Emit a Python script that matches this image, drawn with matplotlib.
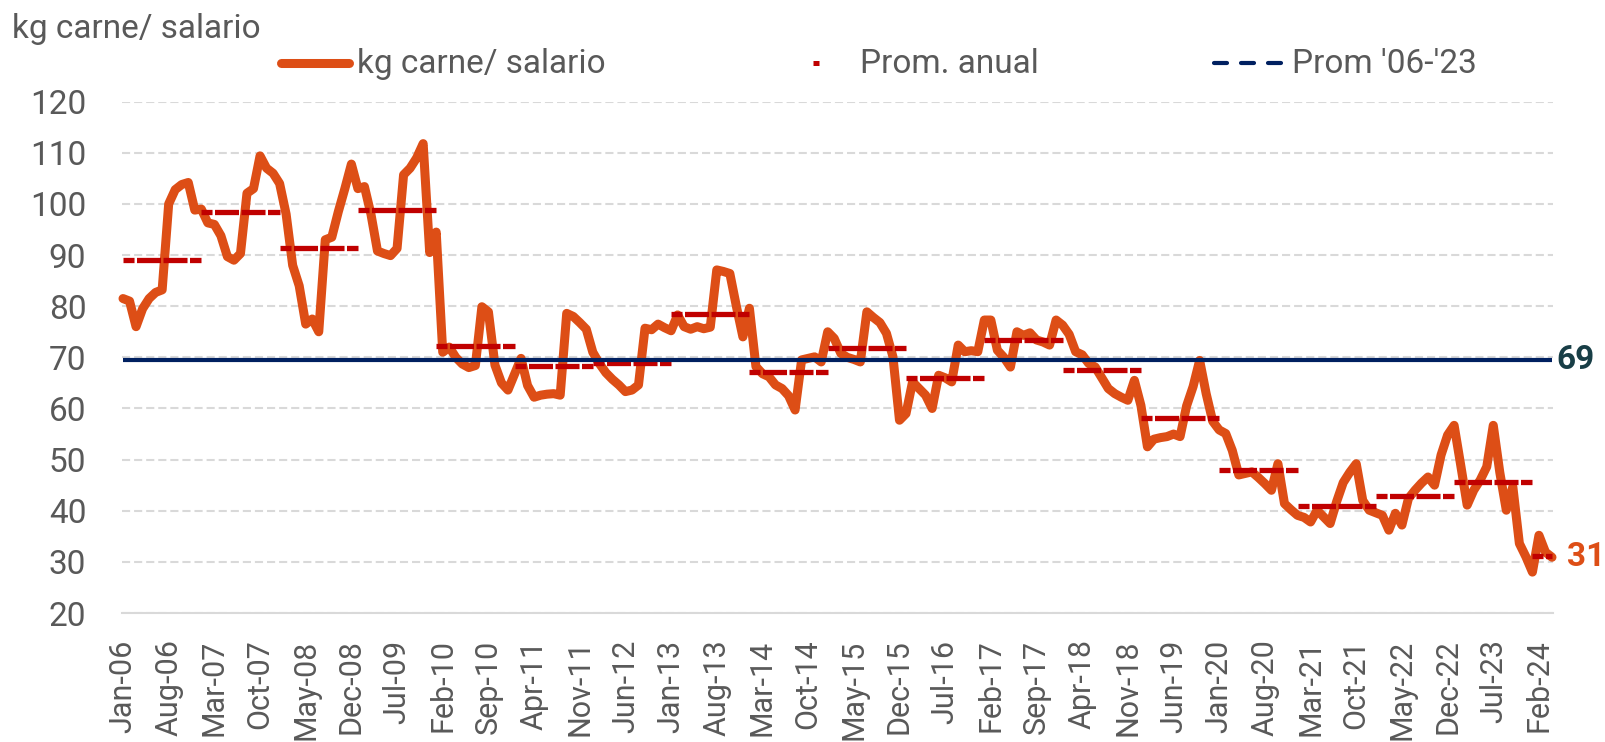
"""Kilos de carne por salario: serie mensual, promedios anuales y promedio 2006-2023."""

import matplotlib

matplotlib.use("Agg")
import matplotlib.pyplot as plt
import pandas as pd
from matplotlib import font_manager
from matplotlib.lines import Line2D

# kg de carne que compra un salario, mensual desde ene-2006 (una fila por año)
kg_carne = [
    81.5, 81.0, 76.0, 79.5, 81.5, 82.7, 83.2, 100.0, 102.8, 103.8, 104.2, 98.8,  # 2006
    99.0, 96.3, 96.0, 93.8, 89.7, 89.0, 90.3, 102.1, 103.0, 109.4, 107.0, 106.0,  # 2007
    104.0, 98.0, 88.0, 84.0, 76.5, 77.5, 75.0, 93.0, 93.5, 98.5, 103.0, 107.8,  # 2008
    103.0, 103.4, 98.0, 90.8, 90.3, 89.9, 91.3, 105.7, 107.0, 109.0, 111.8, 90.5,  # 2009
    94.5, 71.0, 72.0, 70.0, 68.7, 68.0, 68.4, 79.9, 78.9, 68.5, 65.0, 63.6,  # 2010
    66.7, 69.8, 64.5, 62.2, 62.6, 62.8, 62.9, 62.6, 78.6, 78.0, 76.8, 75.5,  # 2011
    71.0, 68.8, 67.0, 65.7, 64.6, 63.3, 63.6, 64.6, 75.7, 75.4, 76.5, 75.8,  # 2012
    75.2, 78.3, 76.0, 75.5, 76.0, 75.6, 75.9, 87.1, 86.8, 86.4, 80.0, 74.0,  # 2013
    79.6, 68.2, 66.8, 66.2, 64.6, 63.9, 62.5, 59.7, 69.5, 69.8, 70.1, 69.1,  # 2014
    75.0, 73.7, 70.8, 70.0, 69.6, 69.1, 78.9, 77.8, 76.8, 74.7, 70.1, 57.7,  # 2015
    59.0, 65.2, 63.9, 62.6, 60.0, 66.5, 66.0, 65.2, 72.4, 71.1, 71.3, 71.1,  # 2016
    77.3, 77.3, 71.4, 70.0, 68.1, 75.0, 74.3, 74.8, 73.4, 73.0, 72.4, 77.3,  # 2017
    76.3, 74.5, 71.1, 70.5, 68.8, 68.1, 66.0, 63.9, 62.9, 62.2, 61.6, 65.5,  # 2018
    60.6, 52.5, 54.0, 54.3, 54.5, 55.0, 54.5, 60.5, 64.3, 69.4, 62.9, 57.5,  # 2019
    55.8, 55.1, 51.8, 47.0, 47.3, 47.6, 46.5, 45.3, 44.0, 49.2, 41.4, 40.2,  # 2020
    39.1, 38.7, 37.8, 40.1, 38.8, 37.5, 41.8, 45.5, 47.5, 49.2, 42.0, 40.1,  # 2021
    39.6, 39.1, 36.2, 39.5, 37.2, 42.4, 44.0, 45.4, 46.6, 45.0, 50.9, 54.8,  # 2022
    56.7, 49.0, 41.1, 44.0, 46.0, 48.6, 56.7, 47.5, 40.1, 44.7, 33.6, 31.0,  # 2023
    28.0, 35.2, 31.9, 30.9,  # 2024
]
start_month = "2006-01"

annual_years = list(range(2006, 2025))
annual_avg = [89.0, 98.5, 91.4, 98.8, 72.3, 68.3, 68.9, 78.5, 67.1, 71.9,
              66.0, 73.4, 67.5, 58.2, 47.9, 40.9, 42.9, 45.6, 31.2]

mean_06_23 = 69.4

series_label = "kg carne/ salario"
annual_label = "Prom. anual"
mean_label = "Prom '06-'23"
y_ticks = list(range(20, 121, 10))
tick_step = 7

ORANGE = "#DD4E16"
DARK_RED = "#C00000"
NAVY = "#002060"
SLATE = "#183E46"
GREY_TXT = "#595959"
GRID = "#D9D9D9"

W, H = 1606, 742


def _pick_family(*names):
    for name in names:
        try:
            font_manager.findfont(font_manager.FontProperties(family=name),
                                  fallback_to_default=False)
            return name
        except ValueError:
            continue
    return "DejaVu Sans"


NARROW = _pick_family("Liberation Sans Narrow", "Roboto")
TXT_SIZE = 27 if NARROW == "Liberation Sans Narrow" else 24
XLAB_FAMILY = _pick_family("Roboto", "Liberation Sans")


def fx(px):
    return px / W


def fy(py):
    return 1 - py / H


months = pd.date_range(start_month, periods=len(kg_carne), freq="MS")
idx = list(range(len(kg_carne)))
last = idx[-1]

fig = plt.figure(figsize=(W / 100, H / 100), dpi=100)
ax = fig.add_axes([fx(121.7), fy(613), fx(1553.3) - fx(121.7), fy(101.7) - fy(613)])

# serie mensual
ax.plot(idx, kg_carne, color=ORANGE, lw=6.5, solid_joinstyle="round",
        solid_capstyle="round", clip_on=False, zorder=3)

# promedios anuales: un tramo por año, de enero a enero
first_month = months[0].year
for year, avg in zip(annual_years, annual_avg):
    x0 = (year - first_month) * 12
    x1 = min(x0 + 12, last)
    ax.plot([x0, x1], [avg, avg], color=DARK_RED, lw=3.8,
            linestyle=(2.46, (4.55, 0.47)), dash_capstyle="butt",
            clip_on=False, zorder=4)

# promedio 2006-2023
ax.plot([0, last], [mean_06_23, mean_06_23], color=NAVY, lw=3.0,
        solid_capstyle="butt", clip_on=False, zorder=5)

ax.set_xlim(-0.2, last + 0.2)
ax.set_ylim(y_ticks[0], y_ticks[-1])
ax.set_yticks(y_ticks)
ax.set_xticks(idx[::tick_step])
ax.set_xticklabels([d.strftime("%b-%y") for d in months[::tick_step]],
                   rotation=90, family=XLAB_FAMILY, fontsize=22, color=GREY_TXT)
for lab in ax.get_yticklabels():
    lab.set_family(NARROW)
    lab.set_fontsize(TXT_SIZE)
    lab.set_color(GREY_TXT)

ax.tick_params(axis="y", length=0, pad=25.5)
ax.tick_params(axis="x", length=0, pad=19)
ax.grid(axis="y", color=GRID, lw=1.5, linestyle=(0, (3.9, 1.9)), zorder=0)
for side in ("top", "right", "left"):
    ax.spines[side].set_visible(False)
ax.spines["bottom"].set_color(GRID)
ax.spines["bottom"].set_linewidth(1.5)
ax.set_axisbelow(True)

# etiquetas de valor a la derecha
ax.annotate(f"{mean_06_23:.0f}", xy=(last, mean_06_23), xytext=(3.5, 0),
            textcoords="offset points", ha="left", va="center",
            family=NARROW, fontsize=TXT_SIZE, fontweight="bold", color=SLATE,
            annotation_clip=False)
ax.annotate(f"{kg_carne[-1]:.0f}", xy=(last, kg_carne[-1]), xytext=(10.5, 0),
            textcoords="offset points", ha="left", va="center",
            family=NARROW, fontsize=TXT_SIZE, fontweight="bold", color=ORANGE,
            annotation_clip=False)

# título del eje
fig.text(fx(12), fy(38), series_label, family=NARROW, fontsize=TXT_SIZE,
         color=GREY_TXT, va="baseline", ha="left")

# leyenda
y_handle = fy(62.7)
y_text = fy(73)
fig.add_artist(Line2D([fx(281), fx(349)], [y_handle, y_handle], color=ORANGE,
                      lw=6.5, solid_capstyle="round"))
fig.add_artist(Line2D([fx(813), fx(818.6)], [y_handle, y_handle], color=DARK_RED,
                      lw=3.6, solid_capstyle="butt"))
fig.add_artist(Line2D([fx(1214), fx(1281)], [y_handle, y_handle], color=NAVY,
                      lw=3.0, linestyle=(0, (3.12, 3.36)), dash_capstyle="round"))
for x_px, label in ((356.7, series_label), (860, annual_label), (1292.5, mean_label)):
    fig.text(fx(x_px), y_text, label, family=NARROW, fontsize=TXT_SIZE,
             color=GREY_TXT, va="baseline", ha="left")

fig.savefig("out.png", dpi=100, facecolor="white")
